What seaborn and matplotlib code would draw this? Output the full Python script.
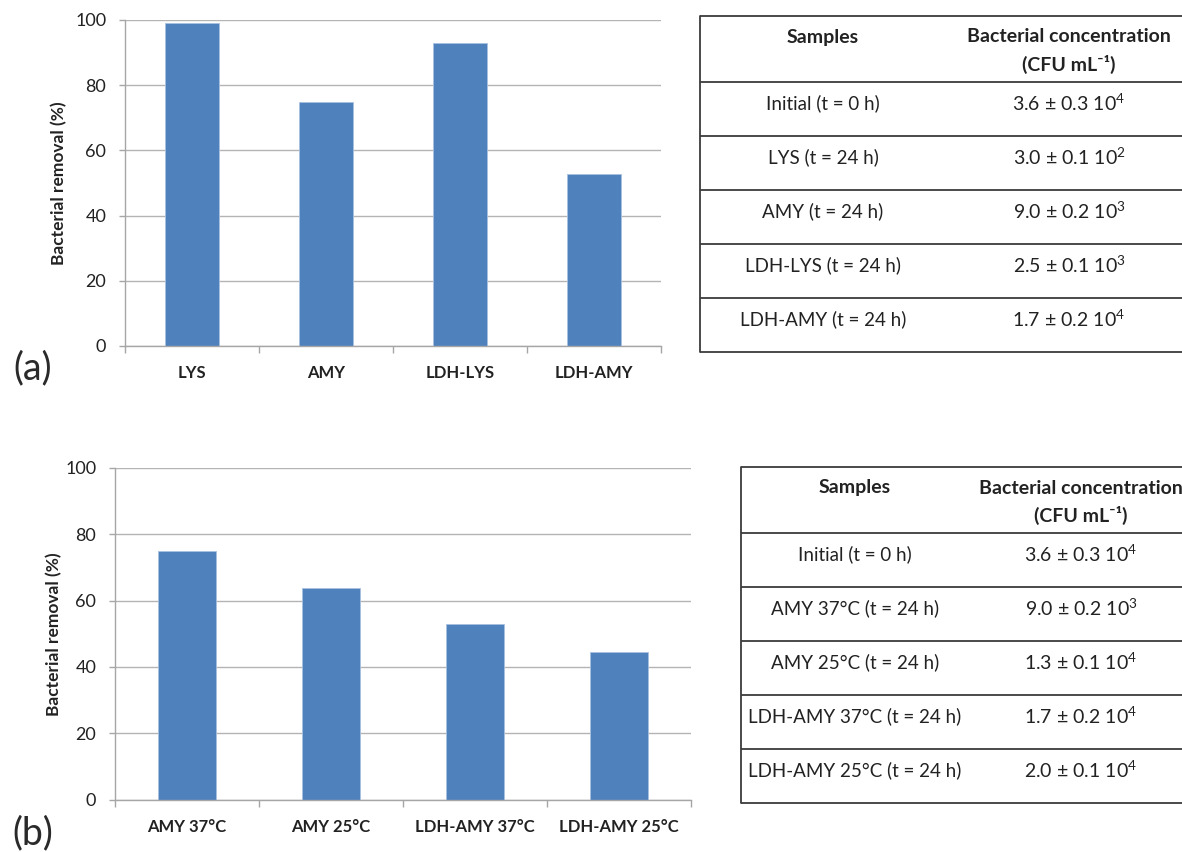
import numpy as np
import matplotlib
matplotlib.use("Agg")
import matplotlib.pyplot as plt
import seaborn as sns

# Panel (a): bacterial removal after 24 h
samples_a = ["LYS", "AMY", "LDH-LYS", "LDH-AMY"]
removal_a = [99.2, 74.8, 93.0, 52.8]

# Panel (b): amylase at two temperatures
samples_b = ["AMY 37°C", "AMY 25°C", "LDH-AMY 37°C", "LDH-AMY 25°C"]
removal_b = [75.0, 63.8, 52.9, 44.5]

# Tables of bacterial concentration (CFU mL-1)
table_a_samples = ["Initial (t = 0 h)", "LYS (t = 24 h)", "AMY (t = 24 h)",
                   "LDH-LYS (t = 24 h)", "LDH-AMY (t = 24 h)"]
table_a_conc = ["3.6 ± 0.3 10$^{4}$", "3.0 ± 0.1 10$^{2}$", "9.0 ± 0.2 10$^{3}$",
                "2.5 ± 0.1 10$^{3}$", "1.7 ± 0.2 10$^{4}$"]

table_b_samples = ["Initial (t = 0 h)", "AMY 37°C (t = 24 h)", "AMY 25°C (t = 24 h)",
                   "LDH-AMY 37°C (t = 24 h)", "LDH-AMY 25°C (t = 24 h)"]
table_b_conc = ["3.6 ± 0.3 10$^{4}$", "9.0 ± 0.2 10$^{3}$", "1.3 ± 0.1 10$^{4}$",
                "1.7 ± 0.2 10$^{4}$", "2.0 ± 0.1 10$^{4}$"]

header = ["Samples", "Bacterial concentration", "(CFU mL⁻¹)"]

sns.set_theme(style="white")
plt.rcParams["font.family"] = ["Lato", "DejaVu Sans"]
plt.rcParams["mathtext.fontset"] = "custom"
plt.rcParams["mathtext.rm"] = "Lato"
plt.rcParams["mathtext.bf"] = "Lato:bold"
plt.rcParams["mathtext.default"] = "regular"

W, H = 1182, 852
BLUE = "#4F81BD"
GRID = "#b4b4b4"
INK = "#222222"

fig = plt.figure(figsize=(W / 100, H / 100), dpi=100)


def px(x, y):
    return x / W, 1 - y / H


def bar_panel(rect, cats, vals, ylab_x):
    x0, y0, x1, y1 = rect
    ax = fig.add_axes([x0 / W, 1 - y1 / H, (x1 - x0) / W, (y1 - y0) / H])
    sns.barplot(x=cats, y=vals, color=BLUE, width=0.4, saturation=1,
                edgecolor="#a9c1e0", linewidth=0.6, ax=ax)
    ax.set_ylim(0, 100)
    ax.set_yticks(range(0, 101, 20))
    ax.set_xlim(-0.5, len(cats) - 0.5)
    ax.set_xticks(np.arange(-0.5, len(cats), 1), minor=True)
    ax.yaxis.grid(True, color=GRID, lw=1)
    ax.set_axisbelow(True)
    for s in ["top", "right"]:
        ax.spines[s].set_visible(False)
    for s in ["left", "bottom"]:
        ax.spines[s].set_color("#a6a6a6")
        ax.spines[s].set_linewidth(1)
    ax.tick_params(axis="x", which="major", length=0, pad=14,
                   labelsize=12, labelcolor=INK)
    ax.tick_params(axis="x", which="minor", length=5, width=1,
                   color="#a6a6a6", direction="out", bottom=True)
    ax.tick_params(axis="y", length=4.5, width=1, color="#a6a6a6",
                   direction="out", left=True, pad=9, labelsize=13,
                   labelcolor=INK)
    for lab in ax.get_xticklabels():
        lab.set_fontweight("bold")
    ax.set_xlabel("")
    ax.set_ylabel("")
    fig.text(*px(ylab_x, (y0 + y1) / 2), "Bacterial removal (%)",
             rotation=90, ha="center", va="center", fontsize=12.5,
             fontweight="bold", color=INK)
    return ax


bar_panel((125, 20, 661, 346), samples_a, removal_a, 59)
bar_panel((115, 467.7, 691, 799.7), samples_b, removal_b, 54)

fig.text(*px(33, 368), "(a)", ha="center", va="center", fontsize=27, color="#2a2a2a")
fig.text(*px(33, 833), "(b)", ha="center", va="center", fontsize=27, color="#2a2a2a")

# tables drawn on an overlay in pixel coordinates
tab = fig.add_axes([0, 0, 1, 1], zorder=5)
tab.set_xlim(0, W)
tab.set_ylim(H, 0)
tab.axis("off")


def draw_table(left, top, col_x, names, concs):
    head_h, row_h = 66, 54
    lines = [top, top + head_h] + [top + head_h + row_h * (i + 1) for i in range(len(names))]
    for y in lines:
        tab.plot([left, W + 5], [y, y], color="#3c3c3c", lw=1.3, solid_capstyle="butt")
    tab.plot([left, left], [lines[0], lines[-1]], color="#3c3c3c", lw=1.3)
    tab.text(col_x[0], top + 21, header[0], ha="center", va="center",
             fontsize=14, fontweight="bold", color=INK)
    tab.text(col_x[1], top + 21, header[1], ha="center", va="center",
             fontsize=14, fontweight="bold", color=INK)
    tab.text(col_x[1], top + 48, header[2], ha="center", va="center",
             fontsize=14, fontweight="bold", color=INK)
    for i, (n, c) in enumerate(zip(names, concs)):
        y = top + head_h + row_h * i + 21
        tab.text(col_x[0], y, n, ha="center", va="center", fontsize=13.5, color=INK)
        tab.text(col_x[1], y, c, ha="center", va="center", fontsize=14, color=INK)


draw_table(700, 16, (823, 1069), table_a_samples, table_a_conc)
draw_table(741, 467, (855, 1081), table_b_samples, table_b_conc)

fig.savefig("out.png", dpi=100)
